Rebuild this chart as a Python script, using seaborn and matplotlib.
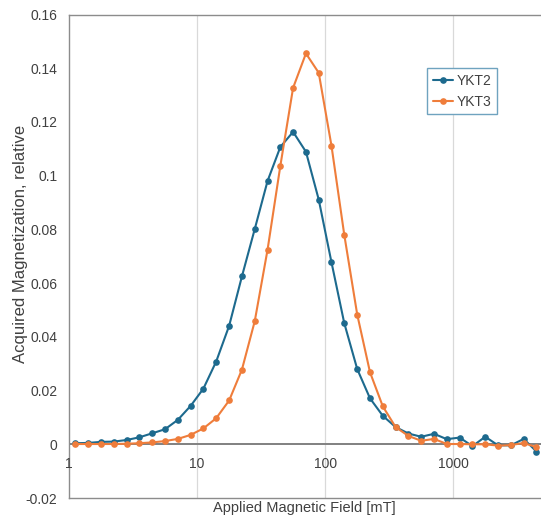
import numpy as np
import pandas as pd
import matplotlib
matplotlib.use("Agg")
import matplotlib.pyplot as plt
import seaborn as sns
from matplotlib.ticker import FixedLocator

# ---- data ----
field_mT = [1.12, 1.41, 1.78, 2.24, 2.82, 3.55, 4.47, 5.62, 7.08, 8.91,
            11.2, 14.1, 17.8, 22.4, 28.2, 35.5, 44.7, 56.2, 70.8, 89.1,
            112, 141, 178, 224, 282, 355, 447, 562, 708, 891,
            1122, 1413, 1778, 2239, 2818, 3548, 4467]
ykt2 = [0.0004, 0.0005, 0.0009, 0.0010, 0.0016, 0.0026, 0.0041, 0.0056, 0.0091, 0.0143,
        0.0207, 0.0308, 0.0441, 0.0625, 0.0801, 0.0980, 0.1107, 0.1163, 0.1089, 0.0911,
        0.0678, 0.0451, 0.0280, 0.0171, 0.0106, 0.0064, 0.0040, 0.0028, 0.0039, 0.0019,
        0.0025, -0.0007, 0.0028, -0.0004, -0.0004, 0.0020, -0.0027]
ykt3 = [0.0001, 0.0001, 0.0001, 0.0001, 0.0002, 0.0004, 0.0007, 0.0012, 0.0020, 0.0035,
        0.0059, 0.0097, 0.0163, 0.0278, 0.0458, 0.0724, 0.1037, 0.1327, 0.1455, 0.1383,
        0.1112, 0.0780, 0.0483, 0.0268, 0.0141, 0.0064, 0.0031, 0.0013, 0.0020, 0.0001,
        0.0001, 0.0000, 0.0000, -0.0005, -0.0003, 0.0005, -0.0011]
series_names = ["YKT2", "YKT3"]
x_ticks = [1, 10, 100, 1000]
x_tick_labels = ["1", "10", "100", "1000"]
y_ticks = [-0.02, 0, 0.02, 0.04, 0.06, 0.08, 0.1, 0.12, 0.14, 0.16]
y_tick_labels = ["-0.02", "0", "0.02", "0.04", "0.06", "0.08", "0.1", "0.12", "0.14", "0.16"]

sns.set_style("white")
plt.rcParams['font.family'] = ['Liberation Sans', 'DejaVu Sans']

colors = ["#1D6A8E", "#EF7D3B"]
text_col = "#404040"

fig = plt.figure(figsize=(5.41, 5.18), dpi=100)
ax = fig.add_axes([0.1275, 0.0386, 1.02 - 0.1275, 0.9334])

for name, vals, c in zip(series_names, [ykt2, ykt3], colors):
    sns.lineplot(x=field_mT, y=vals, ax=ax, color=c, marker="o", markersize=4.8,
                 markeredgewidth=0, linewidth=1.5, label=name, zorder=3)

ax.set_xscale("log")
xmax = 10 ** ((1.02 * 541 - 69.3) / 128.0)
ax.set_xlim(1, xmax)
ax.set_ylim(-0.02, 0.16)

# vertical gridlines
for gx in [10, 100, 1000]:
    ax.axvline(gx, color="#D9D9D9", linewidth=0.9, zorder=1)

# zero axis line
ax.axhline(0, color="#808080", linewidth=1.4, zorder=2)

# frame
for s in ["left", "top", "right", "bottom"]:
    ax.spines[s].set_visible(True)
    ax.spines[s].set_color("#8C8C8C")
    ax.spines[s].set_linewidth(1.0)

ax.xaxis.set_major_locator(FixedLocator(x_ticks))
ax.xaxis.set_minor_locator(FixedLocator([]))
ax.set_xticklabels([])
ax.yaxis.set_major_locator(FixedLocator(y_ticks))
ax.set_yticklabels(y_tick_labels, fontsize=10, color=text_col)
ax.tick_params(axis="both", length=0)
ax.tick_params(axis="y", pad=8.5)

# x tick labels at the zero crossing (Excel style)
trans = matplotlib.transforms.blended_transform_factory(ax.transData, ax.transData)
for xv, lab in zip(x_ticks, x_tick_labels):
    ax.annotate(lab, xy=(xv, 0), xycoords=trans, xytext=(0, -9.5),
                textcoords="offset points", ha="center", va="top",
                fontsize=10, color=text_col)

ax.set_xlabel("Applied Magnetic Field [mT]", fontsize=10.5, color=text_col)
ax.xaxis.set_label_coords(0.487, -0.0207)
ax.xaxis.label.set_va("center")
ax.set_ylabel("Acquired Magnetization, relative", fontsize=12, color=text_col)
ax.yaxis.set_label_coords(-0.1, 0.525)
ax.yaxis.label.set_va("center")

leg = ax.legend(loc="upper left", bbox_to_anchor=(427 / 541, 1 - 68 / 518),
                bbox_transform=fig.transFigure, fontsize=10, frameon=True,
                fancybox=False, framealpha=1, edgecolor="#6FA3BF",
                handlelength=1.5, handletextpad=0.25, borderpad=0.4,
                labelspacing=0.5, borderaxespad=0)
leg.get_frame().set_linewidth(1.0)
for t in leg.get_texts():
    t.set_color(text_col)

fig.savefig("out.png", dpi=100)
